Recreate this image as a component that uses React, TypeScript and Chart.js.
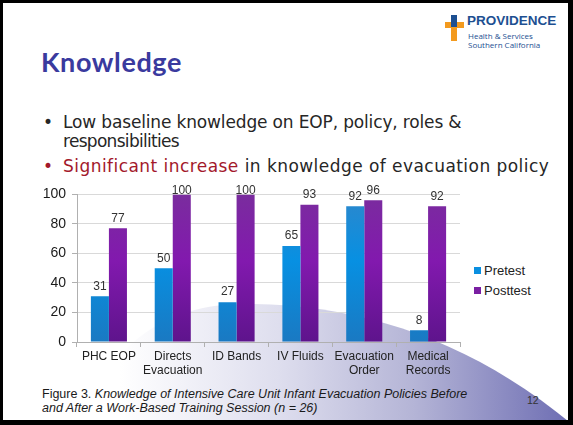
import React, { useEffect, useRef } from "react";
import { Chart, registerables } from "chart.js";

Chart.register(...registerables);

const categories: (string | string[])[] = [
  "PHC EOP",
  ["Directs", "Evacuation"],
  "ID Bands",
  "IV Fluids",
  ["Evacuation", "Order"],
  ["Medical", "Records"],
];
const pretest = [31, 50, 27, 65, 92, 8];
const posttest = [77, 100, 100, 93, 96, 92];
const seriesNames = ["Pretest", "Posttest"];
const yTicks = [0, 20, 40, 60, 80, 100];

const labelFont = "'Liberation Sans Narrow', 'Liberation Sans', Arial, sans-serif";

const valueLabels = {
  id: "valueLabels",
  afterDatasetsDraw(chart: any) {
    const { ctx, chartArea } = chart;
    ctx.save();
    ctx.font = `12px ${labelFont}`;
    ctx.fillStyle = "#333333";
    ctx.textAlign = "center";
    ctx.textBaseline = "middle";
    chart.data.datasets.forEach((ds: any, di: number) => {
      const meta = chart.getDatasetMeta(di);
      meta.data.forEach((el: any, i: number) => {
        const y = Math.max(el.y - 10, chartArea.top - 4);
        ctx.fillText(String(ds.data[i]), el.x, y);
      });
    });
    ctx.restore();
  },
};

function makeGrad(chart: any, stops: [number, string][], fallback: string) {
  const area = chart.chartArea;
  if (!area) return fallback;
  const g = chart.ctx.createLinearGradient(0, area.top, 0, area.bottom);
  stops.forEach(([o, c]) => g.addColorStop(o, c));
  return g;
}

function BarChart() {
  const ref = useRef<HTMLCanvasElement>(null);
  useEffect(() => {
    if (!ref.current) return;
    const chart = new Chart(ref.current, {
      type: "bar",
      data: {
        labels: categories,
        datasets: [
          {
            label: seriesNames[0],
            data: pretest,
            backgroundColor: (c: any) =>
              makeGrad(c.chart, [[0, "#2d87cc"], [0.45, "#0790e2"], [1, "#1a79c2"]], "#0a8fe0"),
            barPercentage: 1,
            categoryPercentage: 0.565,
          },
          {
            label: seriesNames[1],
            data: posttest,
            backgroundColor: (c: any) =>
              makeGrad(c.chart, [[0, "#7a2c9e"], [0.45, "#8219ae"], [1, "#5e148c"]], "#7a1fa2"),
            barPercentage: 1,
            categoryPercentage: 0.565,
          },
        ],
      },
      options: {
        responsive: false,
        animation: false,
        layout: { padding: { top: 9, right: 10, left: 0, bottom: 0 } },
        plugins: { legend: { display: false }, tooltip: { enabled: false } },
        scales: {
          x: {
            afterFit: (s: any) => {
              s.height = 38;
            },
            grid: {
              display: true,
              drawOnChartArea: false,
              drawTicks: true,
              tickLength: 5,
              offset: true,
              color: "#b0b0b0",
            },
            border: { display: true, color: "#b0b0b0" },
            ticks: {
              color: "#222222",
              padding: 2,
              font: { family: labelFont, size: 12, lineHeight: 1.2 },
              maxRotation: 0,
              autoSkip: false,
            },
          },
          y: {
            min: 0,
            max: 100,
            afterFit: (s: any) => {
              s.width = 57;
            },
            afterBuildTicks: (s: any) => {
              s.ticks = yTicks.map((v) => ({ value: v }));
            },
            grid: { color: "#d9d9d9", tickLength: 5, tickColor: "#b0b0b0" },
            border: { display: true, color: "#b0b0b0" },
            ticks: {
              color: "#1a1a1a",
              padding: 6,
              font: { family: "'Liberation Sans', Arial, sans-serif", size: 14 },
            },
          },
        },
      },
      plugins: [valueLabels],
    });
    return () => chart.destroy();
  }, []);
  return <canvas ref={ref} width={450} height={200} style={{ display: "block" }} />;
}

const abs = (left: number, top: number, extra: React.CSSProperties = {}): React.CSSProperties => ({
  position: "absolute",
  left,
  top,
  whiteSpace: "nowrap",
  ...extra,
});

export default function App() {
  const bulletFont = "'DejaVu Sans', 'Open Sans', sans-serif";
  const bulletStyle: React.CSSProperties = {
    fontFamily: bulletFont,
    fontSize: 17,
    lineHeight: "20px",
    color: "#262626",
  };
  return (
    <div
      style={{
        position: "fixed",
        left: 0,
        top: 0,
        width: 573,
        height: 425,
        background: "#ffffff",
        overflow: "hidden",
      }}
    >
      <svg width={573} height={425} style={{ position: "absolute", left: 0, top: 0 }}>
        <defs>
          <linearGradient id="sw" gradientUnits="userSpaceOnUse" x1="120" y1="0" x2="573" y2="0">
            <stop offset="0" stopColor="#ffffff" />
            <stop offset="0.35" stopColor="#dedeee" />
            <stop offset="0.65" stopColor="#b4b4d6" />
            <stop offset="1" stopColor="#6c6cb2" />
          </linearGradient>
        </defs>
        <path d="M 80 425 C 110 340, 170 305, 240 304 C 360 303, 470 340, 573 425 Z" fill="url(#sw)" />
      </svg>

      {/* Logo */}
      <div style={abs(451, 15, { width: 6, height: 12, background: "#1d4f91" })} />
      <div style={abs(451, 27, { width: 6, height: 14, background: "#f39a1e" })} />
      <div style={abs(445, 22, { width: 6, height: 6, background: "#f39a1e" })} />
      <div style={abs(457, 22, { width: 7, height: 6, background: "#f39a1e" })} />
      <div
        style={abs(467, 14, {
          fontFamily: "'Liberation Sans', Arial, sans-serif",
          fontWeight: 700,
          fontSize: 13.5,
          lineHeight: "14px",
          color: "#1d4f91",
        })}
      >
        PROVIDENCE
      </div>
      <div
        style={abs(468, 31, {
          fontFamily: "'Open Sans', sans-serif",
          fontSize: 8,
          lineHeight: "9px",
          color: "#1d4f91",
        })}
      >
        Health &amp; Services
      </div>
      <div
        style={abs(468, 40, {
          fontFamily: "'Open Sans', sans-serif",
          fontSize: 8,
          lineHeight: "9px",
          color: "#1d4f91",
        })}
      >
        Southern California
      </div>

      {/* Title */}
      <div
        style={abs(41, 46, {
          fontFamily: "Lato, 'Open Sans', sans-serif",
          fontWeight: 700,
          fontSize: 27,
          letterSpacing: 0.6,
          lineHeight: "32px",
          color: "#3a3a9e",
        })}
      >
        Knowledge
      </div>

      {/* Bullets */}
      <div style={abs(43, 112, bulletStyle)}>•</div>
      <div style={abs(63, 112, { ...bulletStyle, letterSpacing: -0.15 })}>
        Low baseline knowledge on EOP, policy, roles &amp;
      </div>
      <div style={abs(63, 131, { ...bulletStyle, letterSpacing: -0.7 })}>responsibilities</div>
      <div style={abs(43, 156, { ...bulletStyle, color: "#a3192b" })}>•</div>
      <div style={abs(63, 156, { ...bulletStyle, letterSpacing: 0.45 })}>
        <span style={{ color: "#a3192b" }}>Significant increase</span> in knowledge of evacuation policy
      </div>

      {/* Chart */}
      <div style={abs(20, 180, { width: 450, height: 200 })}>
        <BarChart />
      </div>

      {/* Legend */}
      {seriesNames.map((n, i) => (
        <div key={n} style={abs(474, 263 + i * 20, { display: "flex", alignItems: "center" })}>
          <div
            style={{
              width: 7,
              height: 7,
              background: i === 0 ? "#0a8fe0" : "#7a1fa2",
              marginRight: 3,
            }}
          />
          <span
            style={{
              fontFamily: "'Liberation Sans', Arial, sans-serif",
              fontSize: 13,
              lineHeight: "15px",
              color: "#222222",
            }}
          >
            {n}
          </span>
        </div>
      ))}

      {/* Caption */}
      <div
        style={abs(42, 387, {
          fontFamily: "'Liberation Sans', Arial, sans-serif",
          fontSize: 12.5,
          lineHeight: "14px",
          color: "#1a1a1a",
        })}
      >
        Figure 3. <i>Knowledge of Intensive Care Unit Infant Evacuation Policies Before</i>
        <br />
        <i>and After a Work-Based Training Session (n = 26)</i>
      </div>
      <div
        style={abs(527, 394, {
          fontFamily: "'Liberation Sans', Arial, sans-serif",
          fontSize: 10.5,
          lineHeight: "12px",
          color: "#333333",
        })}
      >
        12
      </div>

      {/* Frame */}
      <div
        style={{
          position: "absolute",
          left: 0,
          top: 0,
          width: 573,
          height: 425,
          boxSizing: "border-box",
          borderStyle: "solid",
          borderColor: "#000000",
          borderWidth: "3px 5px 5px 3px",
          pointerEvents: "none",
        }}
      />
    </div>
  );
}
